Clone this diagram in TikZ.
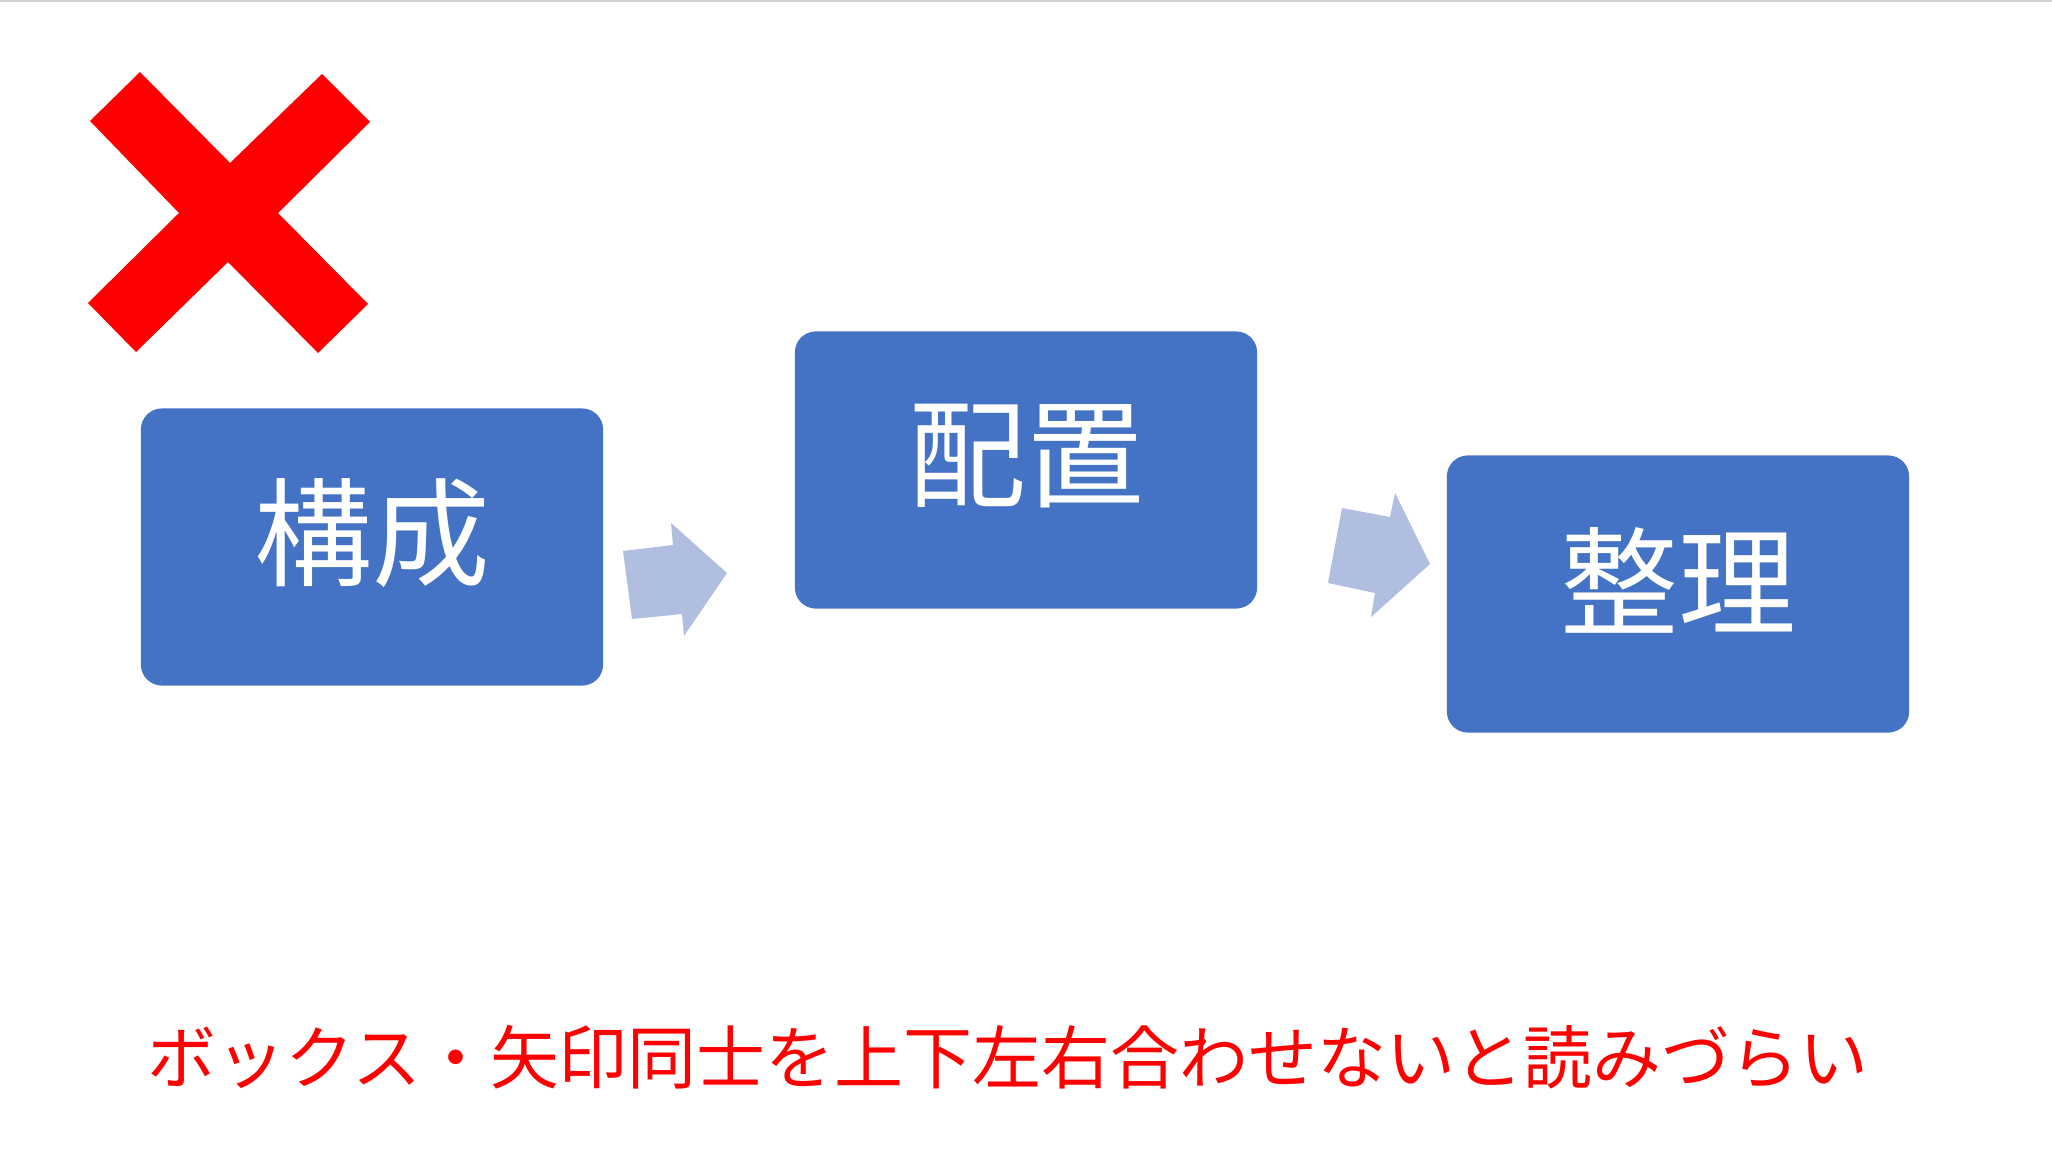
\documentclass[tikz,border=0pt]{standalone}
\usepackage{fontspec}
\newfontfamily\jpfont{Noto Sans CJK JP}
\definecolor{boxblue}{RGB}{68,114,196}
\definecolor{arrowblue}{RGB}{176,190,224}
\definecolor{markred}{RGB}{255,0,0}

\begin{document}
\begin{tikzpicture}[x=0.01cm,y=-0.01cm,
    box/.style={fill=boxblue,rounded corners=0.21cm,minimum width=4.62cm,minimum height=2.77cm,inner sep=0pt},
    boxtext/.style={text=white,font=\jpfont\fontsize{33.5}{36}\selectfont,yshift=0.14cm},
    blockarrow/.style={fill=arrowblue}]
            \useasboundingbox (0,0) rectangle (2052,1154);
            \fill[white] (0,0) rectangle (2052,1154);
            \draw[gray!35,line width=0.02cm] (0,1)--(2052,1);

            \fill[markred] (140,72)--(230,163)--(322,74)--(370,122)--(278,213)--(368,304)
                --(318,353)--(228,262)--(136,352)--(88,303)--(179,213)--(90,121)--cycle;

            \node[box,label={[boxtext]center:構成}] (kousei) at (372,547) {};
            \node[box,label={[boxtext]center:配置}] (haichi) at (1026,470) {};
            \node[box,label={[boxtext]center:整理}] (seiri) at (1678,594) {};

            \fill[blockarrow] (623,551)--(673,545)--(671,523)--(727,573)--(684,636)--(682,614)--(632,619)--cycle;
            \fill[blockarrow] (1342,508)--(1390,517)--(1395,493)--(1430,564)--(1371,617)--(1375,593)--(1328,583)--cycle;

            \node[text=markred,font=\jpfont\fontsize{19.6}{22}\selectfont] (caption) at (1008,1057)
                {ボックス・矢印同士を上下左右合わせないと読みづらい};
        \end{tikzpicture}
\end{document}
